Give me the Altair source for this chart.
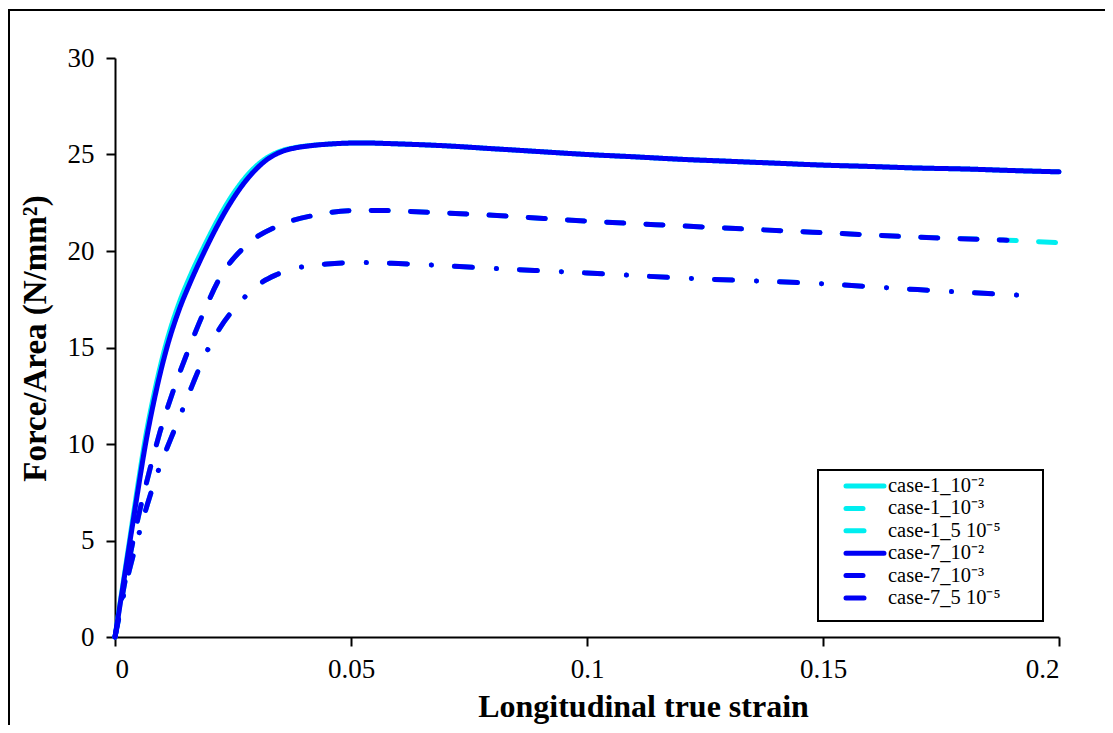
import altair as alt
import pandas as pd

SERIES = ["case-1_10⁻²", "case-1_10⁻³", "case-1_5 10⁻⁵",
          "case-7_10⁻²", "case-7_10⁻³", "case-7_5 10⁻⁵"]
COLORS = ["#00EEF0", "#00EEF0", "#00EEF0", "#0000F5", "#0000F5", "#0000F5"]
DASHES = [[1, 0], [17, 22.3], [18, 24, 0.1, 23], [1, 0], [17, 22.3], [18, 24, 0.1, 23]]
WIDTHS = [5, 5, 5, 3.5, 5, 5]

# solid (10^-2)
x_solid = [0, 0.0016, 0.0032, 0.0048, 0.0064, 0.0085, 0.011, 0.0135, 0.016, 0.019,
           0.0215, 0.0244, 0.027, 0.0297, 0.032, 0.035, 0.038, 0.042, 0.046, 0.052, 0.06,
           0.07, 0.08, 0.09, 0.1, 0.11, 0.12, 0.13, 0.14, 0.15, 0.16, 0.17, 0.18, 0.19, 0.2]
y_case7_solid = [0, 2.5, 5.0, 7.5, 9.9, 12.5, 15.0, 16.9, 18.4, 20.0,
                 21.22, 22.47, 23.41, 24.19, 24.7, 25.12, 25.33, 25.47, 25.55, 25.6, 25.55,
                 25.45, 25.3, 25.15, 25.0, 24.88, 24.75, 24.65, 24.55, 24.45, 24.38, 24.3, 24.25, 24.17, 24.1]
y_case1_solid = [0, 2.6, 5.2, 7.8, 10.25, 12.85, 15.35, 17.25, 18.75, 20.3,
                 21.5, 22.72, 23.62, 24.35, 24.8, 25.17, 25.35, 25.48, 25.55, 25.6, 25.55,
                 25.45, 25.3, 25.15, 25.0, 24.88, 24.75, 24.65, 24.55, 24.45, 24.38, 24.3, 24.25, 24.17, 24.1]

# dashed (10^-3)
x_case7_dash = [0, 0.003, 0.0051, 0.0072, 0.0095, 0.0124, 0.0155, 0.0184, 0.0222, 0.0277,
                0.035, 0.0434, 0.0494, 0.056, 0.065, 0.08, 0.1, 0.12, 0.15, 0.17, 0.189]
y_case7_dash = [0, 4.0, 6.4, 8.5, 10.6, 12.8, 14.85, 16.6, 18.6, 20.27,
                21.35, 21.9, 22.09, 22.1, 22.02, 21.85, 21.55, 21.3, 20.95, 20.72, 20.56]
x_case1_dash = x_case7_dash + [0.2]
y_case1_dash = y_case7_dash + [20.43]

# dash-dot (5 10^-5)
x_dashdot = [0, 0.0024, 0.0048, 0.0069, 0.009, 0.0117, 0.0137, 0.0163, 0.0187, 0.0222,
             0.0265, 0.0298, 0.034, 0.0378, 0.0449, 0.052, 0.06, 0.08, 0.1, 0.12, 0.15,
             0.17, 0.187, 0.194]
y_dashdot = [0, 2.8, 5.1, 6.9, 8.5, 10.2, 11.4, 13.0, 14.4, 16.0,
             17.35, 18.15, 18.75, 19.07, 19.33, 19.4, 19.35, 19.1, 18.86, 18.6, 18.3,
             18.0, 17.77, 17.68]

curves = [
    (SERIES[0], x_solid, y_case1_solid),
    (SERIES[1], x_case1_dash, y_case1_dash),
    (SERIES[2], x_dashdot, y_dashdot),
    (SERIES[3], x_solid, y_case7_solid),
    (SERIES[4], x_case7_dash, y_case7_dash),
    (SERIES[5], x_dashdot, y_dashdot),
]
rows = []
for name, xs, ys in curves:
    for i, (xv, yv) in enumerate(zip(xs, ys)):
        rows.append({"series": name, "strain": xv, "stress": yv, "i": i,
                     "grp": "c1" if name.startswith("case-1") else "c7"})
df = pd.DataFrame(rows)
leg_df = pd.DataFrame({"series": SERIES, "k": list(range(len(SERIES)))})

FONT = "Liberation Serif"

color_scale = alt.Scale(domain=SERIES, range=COLORS)
dash_scale = alt.Scale(domain=SERIES, range=DASHES)
width_scale = alt.Scale(domain=SERIES, range=WIDTHS)

xenc = alt.X("strain:Q", scale=alt.Scale(domain=[0, 0.2], nice=False),
             axis=alt.Axis(values=[0, 0.05, 0.1, 0.15, 0.2], format="~g",
                           title="Longitudinal true strain", titleX=528, titleY=79,
                           titleBaseline="alphabetic", labelPadding=10))
yenc = alt.Y("stress:Q", scale=alt.Scale(domain=[0, 30], nice=False),
             axis=alt.Axis(values=[0, 5, 10, 15, 20, 25, 30],
                           title="Force/Area (N/mm²)", titleAngle=270, titleX=-70,
                           titleY=280, titleAlign="center", titleBaseline="alphabetic",
                           titleFontSize=33, labelPadding=12))

base = alt.Chart(df).mark_line(strokeCap="round", interpolate="monotone").encode(
    x=xenc, y=yenc,
    color=alt.Color("series:N", scale=color_scale, legend=None),
    strokeDash=alt.StrokeDash("series:N", scale=dash_scale, legend=None),
    strokeWidth=alt.StrokeWidth("series:N", scale=width_scale, legend=None),
    order=alt.Order("i:Q"),
)

layer1 = base.transform_filter(alt.datum.grp == "c1")
layer7 = base.transform_filter(alt.datum.grp == "c7")

frame = alt.Chart(pd.DataFrame({"a": [0]})).mark_rect(
    fill="transparent", stroke="black", strokeWidth=2
).encode(x=alt.value(-106), x2=alt.value(1200), y=alt.value(-48), y2=alt.value(900))

legend_box = alt.Chart(pd.DataFrame({"a": [0]})).mark_rect(
    fill="white", stroke="black", strokeWidth=2
).encode(x=alt.value(703), x2=alt.value(928), y=alt.value(412), y2=alt.value(563))

leg_base = alt.Chart(leg_df).transform_calculate(ly="428 + datum.k * 22.4")

legend_lines = leg_base.mark_rule(strokeCap="round").encode(
    x=alt.value(731), x2=alt.value(769),
    y=alt.Y("ly:Q", scale=None),
    color=alt.Color("series:N", scale=color_scale, legend=None),
    strokeDash=alt.StrokeDash("series:N", scale=dash_scale, legend=None),
    strokeWidth=alt.StrokeWidth("series:N", scale=width_scale, legend=None),
)

legend_text = leg_base.mark_text(align="left", baseline="middle", font=FONT,
                                 fontSize=20.5, color="black").encode(
    x=alt.value(773), y=alt.Y("ly:Q", scale=None), text="series:N",
)

chart = alt.layer(frame, layer1, layer7, legend_box, legend_lines, legend_text).properties(
    width=944, height=579,
    autosize=alt.AutoSizeParams(type="none"),
    padding={"left": 107, "top": 50, "right": 46, "bottom": 88},
).configure_view(stroke=None).configure_axis(
    domainColor="black", domainWidth=2, tickColor="black", tickWidth=2, tickSize=9,
    labelFont=FONT, labelFontSize=27, labelColor="black", grid=False,
    titleFont=FONT, titleFontSize=32, titleFontWeight="bold", titleColor="black",
)

chart.save("out.html", embed_options={"renderer": "svg", "actions": False})
